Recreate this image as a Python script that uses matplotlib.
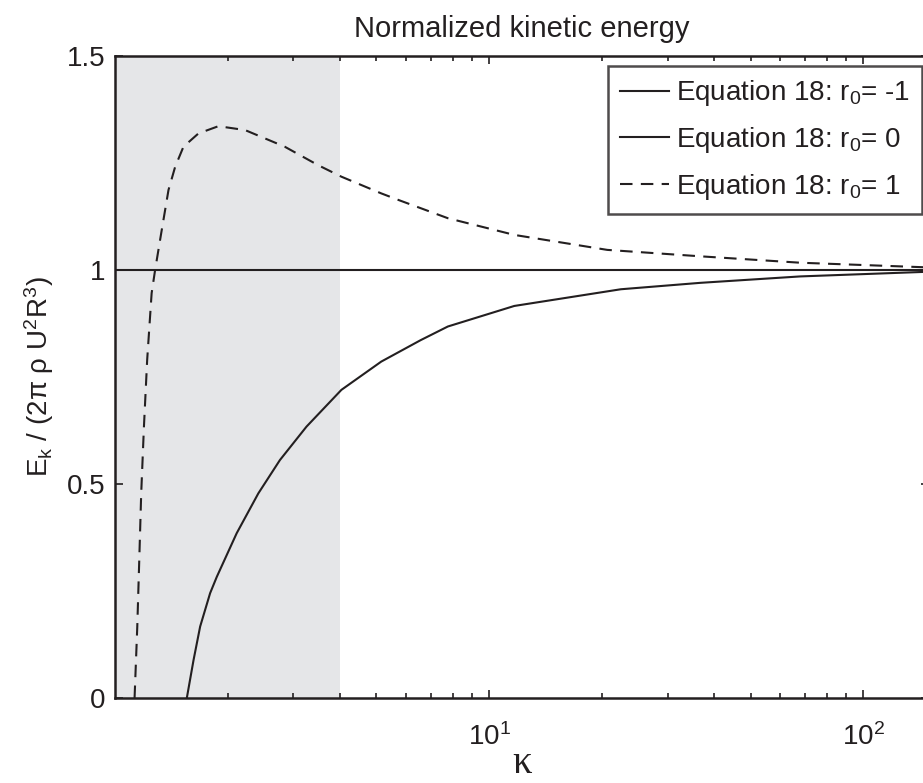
import matplotlib
matplotlib.use("Agg")
import matplotlib.pyplot as plt
from matplotlib.ticker import (LogLocator, NullFormatter, FixedLocator,
                               LogFormatterSciNotation)

kappa_r0_m1 = [1.0, 150.0]
energy_r0_m1 = [1.0, 1.0]

kappa_r0_0 = [1.556, 1.622, 1.689, 1.796, 1.871, 2.115, 2.416, 2.76, 3.25,
              4.03, 5.15, 6.56, 7.76, 11.68, 22.5, 36.7, 67.9, 150.0]
energy_r0_0 = [0.0, 0.089, 0.167, 0.245, 0.283, 0.385, 0.478, 0.556, 0.634,
               0.720, 0.786, 0.836, 0.868, 0.916, 0.955, 0.970, 0.985, 0.996]

kappa_r0_1 = [1.128, 1.147, 1.161, 1.175, 1.195, 1.219, 1.253, 1.28, 1.329,
              1.39, 1.448, 1.524, 1.671, 1.89, 2.226, 2.844, 3.49, 4.03,
              5.15, 5.71, 7.76, 11.68, 20.7, 36.7, 67.9, 150.0]
energy_r0_1 = [0.0, 0.167, 0.322, 0.478, 0.634, 0.790, 0.946, 1.0, 1.086,
               1.187, 1.241, 1.288, 1.319, 1.336, 1.327, 1.288, 1.245, 1.218,
               1.179, 1.164, 1.121, 1.082, 1.047, 1.032, 1.017, 1.006]

shade_range = [1.0, 4.0]
x_ticks = [10, 100]
y_ticks = [0, 0.5, 1, 1.5]
y_tick_labels = ["0", "0.5", "1", "1.5"]
legend_labels = ["Equation 18: $r_0$= -1", "Equation 18: $r_0$= 0",
                 "Equation 18: $r_0$= 1"]

plt.rcParams["font.family"] = ["Liberation Sans", "DejaVu Sans"]
plt.rcParams["mathtext.fontset"] = "custom"
plt.rcParams["mathtext.rm"] = "Liberation Sans"
plt.rcParams["mathtext.it"] = "Liberation Sans"
plt.rcParams["mathtext.default"] = "regular"

ink = "#231f20"
W, H = 923, 783
fig = plt.figure(figsize=(W / 100, H / 100), dpi=100)
ax = fig.add_axes([115 / W, 1 - 698 / H, (929 - 115) / W, (698 - 56) / H])

ax.axvspan(shade_range[0], shade_range[1], color="#e5e6e8", lw=0, zorder=0)

ax.plot(kappa_r0_m1, energy_r0_m1, color=ink, lw=1.5, label=legend_labels[0])
ax.plot(kappa_r0_0, energy_r0_0, color=ink, lw=1.5, label=legend_labels[1])
ax.plot(kappa_r0_1, energy_r0_1, color=ink, lw=1.5, dashes=(6, 4),
        label=legend_labels[2])

ax.set_xscale("log")
ax.set_xlim(1, 150)
ax.set_ylim(0, 1.5)
ax.xaxis.set_major_locator(FixedLocator(x_ticks))
ax.xaxis.set_major_formatter(LogFormatterSciNotation())
ax.xaxis.set_minor_locator(LogLocator(base=10, subs=range(2, 10)))
ax.xaxis.set_minor_formatter(NullFormatter())
ax.yaxis.set_major_locator(FixedLocator(y_ticks))
ax.set_yticklabels(y_tick_labels)

ax.tick_params(which="both", direction="in", top=True, right=True,
               color=ink, labelcolor=ink, labelsize=20)
ax.tick_params(which="major", length=6, width=1.2)
ax.tick_params(which="minor", length=3.5, width=1.2)
ax.tick_params(axis="x", pad=18)
ax.tick_params(axis="y", pad=7)
for s in ax.spines.values():
    s.set_linewidth(1.8)
    s.set_color(ink)

ax.set_title("Normalized kinetic energy", fontsize=21, color=ink, pad=14)
ax.set_ylabel("E$_k$ / (2π ρ U$^2$R$^3$)", fontsize=20, color=ink, labelpad=8)
ax.set_xlabel("κ", fontsize=28, color=ink, family=["Liberation Serif"],
              labelpad=-4)

leg = ax.legend(loc="upper right", bbox_to_anchor=(922 / W, 1 - 66 / H),
                bbox_transform=fig.transFigure, borderaxespad=0,
                fontsize=20, frameon=True, fancybox=False,
                handlelength=1.75, handletextpad=0.25, labelspacing=0.6,
                borderpad=0.45)
leg.get_frame().set_edgecolor(ink)
leg.get_frame().set_linewidth(1.8)
for t in leg.get_texts():
    t.set_color(ink)

fig.savefig("out.png", dpi=100)
